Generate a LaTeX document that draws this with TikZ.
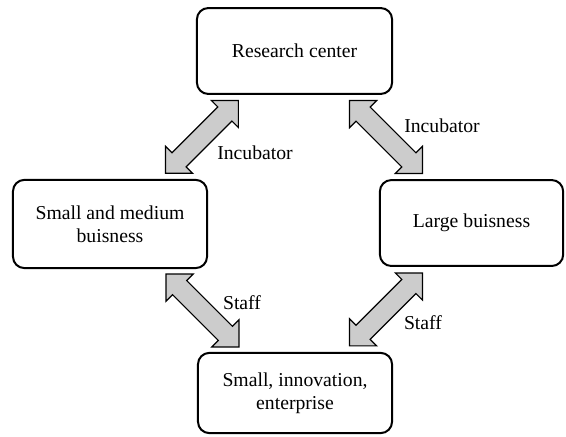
\documentclass[tikz,border=0pt]{standalone}
\usepackage{fontspec}
\setmainfont{Liberation Serif}
\usetikzlibrary{shapes.arrows, calc}

\begin{document}
\begin{tikzpicture}[font=\fontsize{9.85pt}{11.5pt}\selectfont,
    box node/.style={rectangle, rounded corners=0.2cm, draw, line width=1pt,
        align=center, inner sep=0pt},
    arrow node/.style={double arrow, draw, semithick, fill=black!20,
        minimum height=1.81cm, inner xsep=0pt, inner ysep=0.165cm,
        double arrow head extend=0.16cm},
    label node/.style={inner sep=0pt}]

    \useasboundingbox (0,0) rectangle (9.946,-7.662);

    \node[box node, minimum width=3.43cm, minimum height=1.51cm] (RC) at (5.175,-0.896) {Research center};
    \node[box node, minimum width=3.41cm, minimum height=1.55cm] (SM) at (1.933,-3.936) {Small and medium\\buisness};
    \node[box node, minimum width=3.22cm, minimum height=1.51cm] (LB) at (8.286,-3.919) {Large buisness};
    \node[box node, minimum width=3.41cm, minimum height=1.41cm] (SIE) at (5.184,-6.906) {Small, innovation,\\enterprise};

    % Incubator links
    \node[arrow node, rotate=45] (A1) at ($(RC.south west)!0.5!(SM.north east)$) {};
    \node[arrow node, rotate=-45] (A2) at ($(RC.south east)!0.5!(LB.north west)$) {};

    % Staff links
    \node[arrow node, rotate=-45] (A3) at ($(SM.south east)!0.5!(SIE.north west)$) {};
    \node[arrow node, rotate=45] (A4) at ($(LB.south west)!0.5!(SIE.north east)$) {};

    \node[label node] (L1) at (4.481,-2.689) {Incubator};
    \node[label node] (L2) at (7.767,-2.214) {Incubator};
    \node[label node] (L3) at (4.253,-5.325) {Staff};
    \node[label node] (L4) at (7.433,-5.676) {Staff};

\end{tikzpicture}
\end{document}
